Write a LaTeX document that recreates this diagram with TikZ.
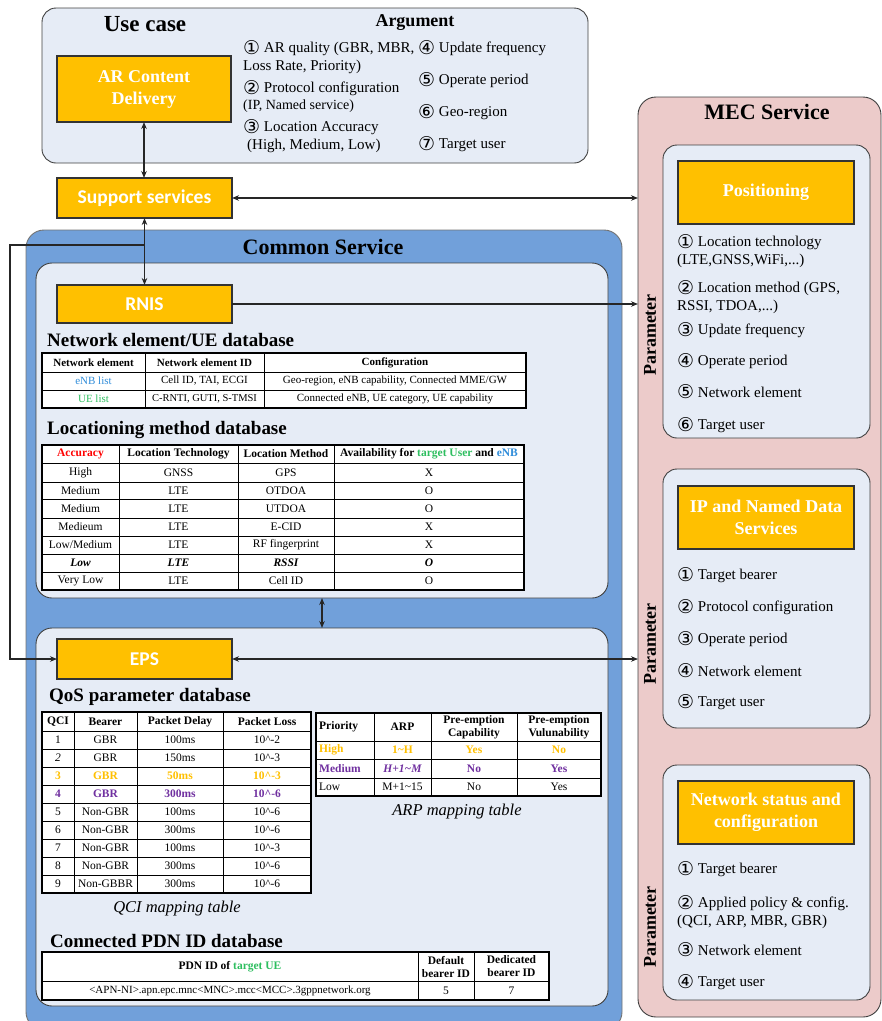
\documentclass[tikz,border=0pt]{standalone}
\usepackage{fontspec}
\setmainfont{Liberation Serif}
\newfontfamily\calib{Carlito}
\newfontfamily\dejavu{DejaVu Sans}
\usetikzlibrary{arrows.meta}
\definecolor{orangec}{HTML}{FFC000}
\definecolor{panelc}{HTML}{E6ECF6}
\definecolor{bluec}{HTML}{71A0DA}
\definecolor{mecc}{HTML}{ECCBCA}
\definecolor{greenc}{HTML}{2DBE5F}
\definecolor{bluet}{HTML}{2E8CDA}
\definecolor{purplec}{HTML}{7030A0}
\definecolor{redc}{HTML}{FF0000}
\newcommand\cn[1]{{\dejavu\fontsize{19}{19}\selectfont\raisebox{-1.6pt}{#1}}}
\newcommand\oq{\color{orangec}\bfseries}
\newcommand\pq{\color{purplec}\bfseries}
\newcommand\locrow[6]{%
 \node[cell] (l#1a) at (80.5,#2) {#3};
 \node[cell] (l#1b) at (178.5,#2) {#4};
 \node[cell] (l#1c) at (286,#2) {#5};
 \node[cell] (l#1d) at (429,#2) {#6};}
\newcommand\qosrow[6]{%
 \node[cell] (q#1a) at (58,#2) {#3};
 \node[cell] (q#1b) at (105.5,#2) {#4};
 \node[cell] (q#1c) at (180,#2) {#5};
 \node[cell] (q#1d) at (267,#2) {#6};}
\newcommand\arprow[6]{%
 \node[cell, anchor=west] (r#1a) at (319,#2) {#3};
 \node[cell] (r#1b) at (402.5,#2) {#4};
 \node[cell] (r#1c) at (474,#2) {#5};
 \node[cell] (r#1d) at (559,#2) {#6};}
\begin{document}
\begin{tikzpicture}[x=1pt,y=-1pt,
 panel/.style={draw=black!75, line width=0.9pt, fill=panelc, rounded corners=14pt, anchor=north west, inner sep=0pt, outer sep=0pt},
 obox/.style={draw=black!80, line width=1.1pt, fill=orangec, text=white, anchor=north west, inner sep=0pt, outer sep=0pt, align=center, font=\bfseries\fontsize{18}{22}\selectfont},
 cbox/.style={obox, font=\calib\bfseries\fontsize{19.5}{22}\selectfont},
 item/.style={anchor=west, inner sep=0pt, font=\fontsize{15}{18}\selectfont},
 ttl/.style={inner sep=0pt, font=\bfseries\fontsize{19}{22}\selectfont},
 sect/.style={ttl, anchor=west},
 cell/.style={inner sep=0pt, align=center, font=\fontsize{11.5}{13}\selectfont},
 hcell/.style={inner sep=0pt, align=center, font=\bfseries\fontsize{11.5}{13}\selectfont},
 scell/.style={cell, font=\fontsize{11}{13}\selectfont},
 shcell/.style={hcell, font=\bfseries\fontsize{11}{13}\selectfont},
 capt/.style={inner sep=0pt, font=\itshape\fontsize{16.5}{19}\selectfont},
 param/.style={inner sep=0pt, rotate=90, font=\bfseries\fontsize{18}{20}\selectfont},
 tline/.style={line width=0.9pt, draw=black},
 tframe/.style={line width=1.8pt, draw=black},
 mytip/.tip={Stealth[length=7pt,width=5.5pt]},
 arr/.style={line width=1.1pt, draw=black!85, -mytip},
 darr/.style={line width=1.1pt, draw=black!85, mytip-mytip},
]
\useasboundingbox (0,0) rectangle (882,1021);

% ---------------- MEC service ----------------
\node[panel, fill=mecc, rounded corners=18pt, minimum width=243pt, minimum height=920pt] (mec) at (638,97) {};
\node[ttl, font=\bfseries\fontsize{22}{26}\selectfont] (mecT) at (767,112) {MEC Service};
\node[panel, minimum width=207pt, minimum height=293pt] (posP) at (663,145) {};
\node[panel, minimum width=207pt, minimum height=259pt] (ipP) at (663,469) {};
\node[panel, minimum width=207pt, minimum height=235pt] (netP) at (663,765) {};
\node[obox, minimum width=176pt, minimum height=63pt] (pos) at (678,161) {Positioning};
\node[obox, minimum width=176pt, minimum height=63pt] (ipnd) at (678,486) {IP and Named Data\\Services};
\node[obox, minimum width=176pt, minimum height=63pt] (net) at (678,781) {Network status and\\configuration};
\node[param] (par1) at (650,335) {Parameter};
\node[param] (par2) at (650,644) {Parameter};
\node[param] (par3) at (650,927) {Parameter};

\node[item] (p1) at (677,242) {\cn{①} Location technology};
\node[item] (p1b) at (677,261) {(LTE,GNSS,WiFi,...)};
\node[item] (p2) at (677,288) {\cn{②} Location method (GPS,};
\node[item] (p2b) at (677,307) {RSSI, TDOA,...)};
\node[item] (p3) at (677,330) {\cn{③} Update frequency};
\node[item] (p4) at (677,361) {\cn{④} Operate period};
\node[item] (p5) at (677,392) {\cn{⑤} Network element};
\node[item] (p6) at (677,425) {\cn{⑥} Target user};

\node[item] (i1) at (677,575) {\cn{①} Target bearer};
\node[item] (i2) at (677,607) {\cn{②} Protocol configuration};
\node[item] (i3) at (677,639) {\cn{③} Operate period};
\node[item] (i4) at (677,671) {\cn{④} Network element};
\node[item] (i5) at (677,702) {\cn{⑤} Target user};

\node[item] (n1) at (677,869) {\cn{①} Target bearer};
\node[item] (n2) at (677,903) {\cn{②} Applied policy \& config.};
\node[item] (n2b) at (677,922) {(QCI, ARP, MBR, GBR)};
\node[item] (n3) at (677,950) {\cn{③} Network element};
\node[item] (n4) at (677,982) {\cn{④} Target user};

% ---------------- Use case ----------------
\node[panel, minimum width=546pt, minimum height=155pt] (uc) at (42,8) {};
\node[ttl, font=\bfseries\fontsize{23}{26}\selectfont] (ucT) at (145,24) {Use case};
\node[ttl, font=\bfseries\fontsize{18}{21}\selectfont] (argT) at (415,23) {Argument};
\node[obox, minimum width=174pt, minimum height=66pt] (ar) at (57,56) {AR Content\\Delivery};
\node[item] (a1) at (243,48) {\cn{①} AR quality (GBR, MBR,};
\node[item] (a1b) at (243,67) {Loss Rate, Priority)};
\node[item] (a2) at (243,88) {\cn{②} Protocol configuration};
\node[item, font=\fontsize{14}{16}\selectfont] (a2b) at (243,106) {(IP, Named service)};
\node[item] (a3) at (243,127) {\cn{③} Location Accuracy};
\node[item] (a3b) at (247,146) {(High, Medium, Low)};
\node[item] (a4) at (418,48) {\cn{④} Update frequency};
\node[item] (a5) at (418,80) {\cn{⑤} Operate period};
\node[item] (a6) at (418,112) {\cn{⑥} Geo-region};
\node[item] (a7) at (418,144) {\cn{⑦} Target user};

% ---------------- Support services ----------------
\node[cbox, minimum width=175pt, minimum height=40pt] (support) at (57,178) {Support services};

% ---------------- Common service ----------------
\node[panel, fill=bluec, draw=black!55, rounded corners=18pt, minimum width=596pt, minimum height=800pt] (common) at (26,230) {};
\node[ttl, font=\bfseries\fontsize{22}{26}\selectfont] (commonT) at (323,247) {Common Service};
\node[panel, rounded corners=16pt, minimum width=572pt, minimum height=335pt] (inner1) at (36,263) {};
\node[panel, rounded corners=16pt, minimum width=572pt, minimum height=378pt] (inner2) at (36,628) {};
\node[cbox, minimum width=175pt, minimum height=38pt] (rnis) at (57,285) {RNIS};
\node[cbox, minimum width=175pt, minimum height=40pt] (eps) at (57,639) {EPS};

% Network element / UE database
\node[sect] (s1) at (47,340) {Network element/UE database};
\fill[white] (42,353) rectangle (526,408);
\foreach \x in {145,264} \draw[tline] (\x,353) -- (\x,408);
\foreach \y in {372,390} \draw[tline] (42,\y) -- (526,\y);
\draw[tframe] (42,353) rectangle (526,408);
\node[shcell] (t1h1) at (93.5,362.5) {Network element};
\node[shcell] (t1h2) at (204.5,362.5) {Network element ID};
\node[shcell] (t1h3) at (395,362.5) {Configuration};
\node[scell, text=bluet] (t1a1) at (93.5,381) {eNB list};
\node[scell] (t1a2) at (204.5,381) {Cell ID, TAI, ECGI};
\node[scell] (t1a3) at (395,381) {Geo-region, eNB capability, Connected MME/GW};
\node[scell, text=greenc] (t1b1) at (93.5,399) {UE list};
\node[scell, font=\fontsize{10.5}{13}\selectfont] (t1b2) at (204.5,399) {C-RNTI, GUTI, S-TMSI};
\node[scell] (t1b3) at (395,399) {Connected eNB, UE category, UE capability};

% Locationing method database
\node[sect] (s2) at (47,430) {Locationing method database};
\fill[white] (42,445) rectangle (524,590);
\foreach \x in {119,238,334} \draw[tline] (\x,445) -- (\x,590);
\foreach \y in {463,482,499,518,536,554,572} \draw[tline] (42,\y) -- (524,\y);
\draw[tframe] (42,445) rectangle (524,590);
\node[hcell, text=redc] (l0a) at (80.5,454) {Accuracy};
\node[hcell] (l0b) at (178.5,454) {Location Technology};
\node[hcell] (l0c) at (286,454) {Location Method};
\node[hcell] (l0d) at (429,454) {Availability for \textcolor{greenc}{target User} and \textcolor{bluet}{eNB}};
\locrow{1}{472.5}{High}{GNSS}{GPS}{X}
\locrow{2}{490.5}{Medium}{LTE}{OTDOA}{O}
\locrow{3}{508.5}{Medium}{LTE}{UTDOA}{O}
\locrow{4}{527}{Medieum}{LTE}{E-CID}{X}
\locrow{5}{545}{Low/Medium}{LTE}{RF fingerprint}{X}
\locrow{6}{563}{\bfseries\itshape Low}{\bfseries\itshape LTE}{\bfseries\itshape RSSI}{\bfseries\itshape O}
\locrow{7}{581}{Very Low}{LTE}{Cell ID}{O}

% QoS parameter database
\node[sect] (s3) at (49,697) {QoS parameter database};
\fill[white] (42,712) rectangle (311,893);
\foreach \x in {74,137,223} \draw[tline] (\x,712) -- (\x,893);
\foreach \y in {731,749,767,785,803,821,839,857,875} \draw[tline] (42,\y) -- (311,\y);
\draw[tframe] (42,712) rectangle (311,893);
\node[hcell] (q0a) at (58,721.5) {QCI};
\node[hcell] (q0b) at (105.5,721.5) {Bearer};
\node[hcell] (q0c) at (180,721.5) {Packet Delay};
\node[hcell] (q0d) at (267,721.5) {Packet Loss};
\qosrow{1}{740}{1}{GBR}{100ms}{10\textasciicircum-2}
\qosrow{2}{758}{\itshape 2}{GBR}{150ms}{10\textasciicircum-3}
\qosrow{3}{776}{\oq 3}{\oq GBR}{\oq 50ms}{\oq 10\textasciicircum-3}
\qosrow{4}{794}{\pq 4}{\pq GBR}{\pq 300ms}{\pq 10\textasciicircum-6}
\qosrow{5}{812}{5}{Non-GBR}{100ms}{10\textasciicircum-6}
\qosrow{6}{830}{6}{Non-GBR}{300ms}{10\textasciicircum-6}
\qosrow{7}{848}{7}{Non-GBR}{100ms}{10\textasciicircum-3}
\qosrow{8}{866}{8}{Non-GBR}{300ms}{10\textasciicircum-6}
\qosrow{9}{884}{9}{Non-GBBR}{300ms}{10\textasciicircum-6}
\node[capt] (qcap) at (177,909) {QCI mapping table};

% ARP mapping table
\fill[white] (316,713) rectangle (601,796);
\foreach \x in {374,431,517} \draw[tline] (\x,713) -- (\x,796);
\foreach \y in {741,759,778} \draw[tline] (316,\y) -- (601,\y);
\draw[tframe] (316,713) rectangle (601,796);
\node[hcell, anchor=west] (r0a) at (319,727) {Priority};
\node[hcell] (r0b) at (402.5,727) {ARP};
\node[hcell] (r0c) at (474,727) {Pre-emption\\Capability};
\node[hcell] (r0d) at (559,727) {Pre-emption\\Vulunability};
\arprow{1}{750}{\oq High}{\oq 1\textasciitilde H}{\oq Yes}{\oq No}
\arprow{2}{768.5}{\pq Medium}{\pq\itshape H+1\textasciitilde M}{\pq No}{\pq Yes}
\arprow{3}{787}{Low}{M+1\textasciitilde 15}{No}{Yes}
\node[capt] (rcap) at (457,812) {ARP mapping table};

% Connected PDN ID database
\node[sect] (s4) at (50,941) {Connected PDN ID database};
\fill[white] (42,952) rectangle (549,1000);
\foreach \x in {418,474} \draw[tline] (\x,952) -- (\x,1000);
\draw[tline] (42,981) -- (549,981);
\draw[tframe] (42,952) rectangle (549,1000);
\node[hcell] (d0a) at (230,966.5) {PDN ID of \textcolor{greenc}{target UE}};
\node[hcell] (d0b) at (446,966.5) {Default\\bearer ID};
\node[hcell] (d0c) at (511.5,966.5) {Dedicated\\bearer ID};
\node[cell, font=\fontsize{11}{13}\selectfont] (d1a) at (230,990.5) {<APN-NI>.apn.epc.mnc<MNC>.mcc<MCC>.3gppnetwork.org};
\node[cell] (d1b) at (446,990.5) {5};
\node[cell] (d1c) at (511.5,990.5) {7};

% ---------------- connectors ----------------
\coordinate (brk) at (144.5,245);
\coordinate (lft) at (10,245);
\draw[darr] (ar.south) -- (ar.south |- support.north);
\draw[darr] (support.south) -- (rnis.north);
\draw[darr] (support.east) -- (support.east -| mec.west);
\draw[arr] (rnis.east) -- (rnis.east -| mec.west);
\draw[darr] (eps.east) -- (eps.east -| mec.west);
\draw[darr] (inner1.south) -- (inner2.north);
\draw[arr] (brk) -- (lft) |- (eps.west);
\end{tikzpicture}
\end{document}
